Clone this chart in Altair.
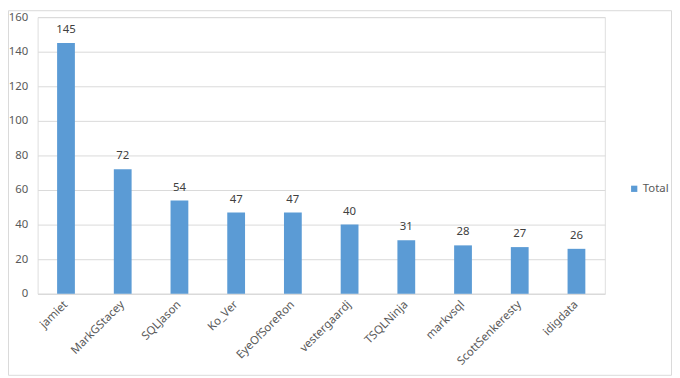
import altair as alt
import pandas as pd

names = ["jamiet", "MarkGStacey", "SQLJason", "Ko_Ver", "EyeOfSoreRon",
         "vestergaardj", "TSQLNinja", "markvsql", "ScottSenkeresty", "idigdata"]
totals = [145, 72, 54, 47, 47, 40, 31, 28, 27, 26]
series = ["Total"] * len(names)
y_ticks = [0, 20, 40, 60, 80, 100, 120, 140, 160]

df = pd.DataFrame({"name": names, "total": totals, "series": series})

FONT = "Noto Sans"
GREY = "#595959"
BLUE = "#5b9bd5"

x_enc = alt.X("name:N", sort=names, title=None,
              scale=alt.Scale(paddingInner=0.68, paddingOuter=0.34),
              axis=alt.Axis(labelAngle=-45, labelAlign="right", labelBaseline="middle",
                            labelPadding=9, ticks=False, domainColor="#d9d9d9",
                            labelColor=GREY, labelFont=FONT, labelFontSize=11.5))

y_enc = alt.Y("total:Q", title=None,
              scale=alt.Scale(domain=[0, 160], nice=False),
              axis=alt.Axis(values=y_ticks, tickCount=9, labelOverlap=False,
                            ticks=False, domain=False,
                            gridColor="#d9d9d9", labelColor=GREY, labelFont=FONT,
                            labelFontSize=11.5, labelPadding=10))

bars = alt.Chart(df).mark_bar(size=18).encode(
    x=x_enc,
    y=y_enc,
    color=alt.Color("series:N", title=None,
                    scale=alt.Scale(domain=["Total"], range=[BLUE]),
                    legend=alt.Legend(orient="none", legendX=598, legendY=168,
                                      symbolType="square", symbolSize=40,
                                      symbolStrokeWidth=0,
                                      labelFont=FONT, labelFontSize=11.5,
                                      labelColor=GREY, labelOffset=3)),
)

labels = alt.Chart(df).mark_text(dy=-13, font=FONT, fontSize=11.5, color="#404040").encode(
    x=x_enc,
    y=y_enc,
    text=alt.Text("total:Q"),
)

frame = alt.Chart(df.head(1)).mark_rect(fill=None, stroke="#d9d9d9", strokeWidth=1).encode(
    x=alt.value(-29.5), x2=alt.value(641.5),
    y=alt.value(-6.5), y2=alt.value(362.5),
)

chart = alt.layer(frame, bars, labels).properties(
    width=574, height=280,
    autosize=alt.AutoSizeParams(type="none"),
    padding={"left": 30, "top": 7, "right": 68, "bottom": 83},
).configure_view(stroke=None).configure(background="white")

chart.save("out.html", embed_options={"renderer": "svg", "actions": False})
